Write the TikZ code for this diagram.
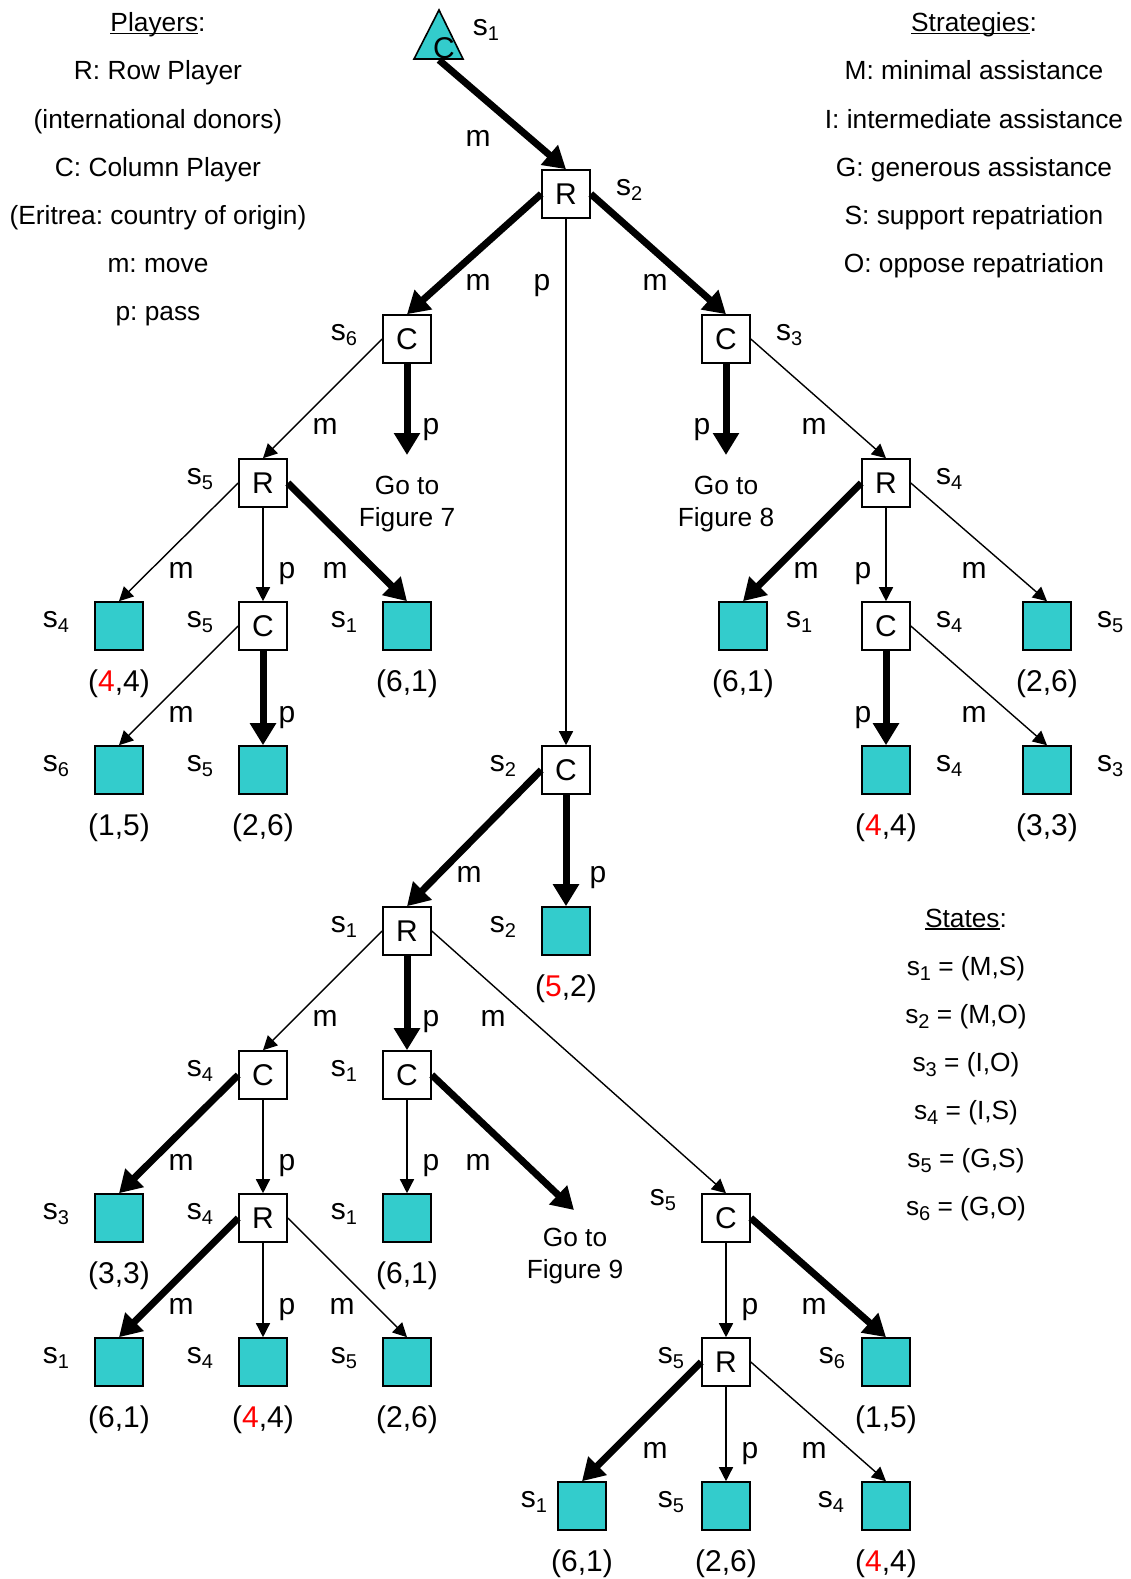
\documentclass[tikz,border=0pt]{standalone}
\usepackage{fontspec}
\setmainfont{Liberation Sans}
\usetikzlibrary{arrows.meta}
\definecolor{leafc}{RGB}{51,204,204}
\newcommand{\stt}[1]{s\raisebox{-5pt}{\fontsize{20}{20}\selectfont #1}}
\newcommand{\rf}[1]{\textcolor{red}{#1}}
\newcommand{\ulined}[1]{\setbox0\hbox{#1}\rlap{\rule[-2.5pt]{\wd0}{1.3pt}}\box0}
\frenchspacing

\begin{document}
\begin{tikzpicture}[x=1pt,y=-1pt]
\tikzset{player/.style = {shape=rectangle,draw,line width=1.6pt,minimum size=48pt,inner sep=0pt,fill=white,font=\fontsize{30}{36}\selectfont}}
\tikzset{leaf/.style = {player,fill=leafc}}
\tikzset{lab/.style = {inner sep=0pt,label distance=25pt,yshift=4pt,font=\fontsize{30}{36}\selectfont}}
\tikzset{pay/.style = {inner sep=0pt,label distance=19pt,font=\fontsize{30}{36}\selectfont}}
\tikzset{edge/.style = {-{Triangle[length=14pt,width=14pt]},line width=1.4pt}}
\tikzset{bedge/.style = {-{Triangle[length=22pt,width=25pt]},line width=7pt}}
\tikzset{mlab/.style = {anchor=base,inner sep=0pt,font=\fontsize{30}{36}\selectfont}}
\tikzset{note/.style = {align=center,inner sep=0pt,font=\fontsize{26.3}{32}\selectfont}}
\useasboundingbox (0,0) rectangle (1131,1579);

% legends
\node[note,anchor=base] (pl0) at (158,32) {\ulined{Players}:};
\foreach \t [count=\i] in {R: Row Player,(international donors),C: Column Player,(Eritrea: country of origin),m: move,p: pass}
  \node[note,anchor=base] (pl\i) at (158,32+48*\i) {\t};
\node[note,anchor=base] (sg0) at (974,32) {\ulined{Strategies}:};
\foreach \t [count=\i] in {M: minimal assistance,I: intermediate assistance,G: generous assistance,S: support repatriation,O: oppose repatriation}
  \node[note,anchor=base] (sg\i) at (974,32+48*\i) {\t};
\node[note,anchor=base] (st0) at (966,927) {\ulined{States}:};
\foreach \t [count=\i] in {{\stt{1} = (M,S)},{\stt{2} = (M,O)},{\stt{3} = (I,O)},{\stt{4} = (I,S)},{\stt{5} = (G,S)},{\stt{6} = (G,O)}}
  \node[note,anchor=base] (st\i) at (966,927+48*\i) {\t};

% root
\filldraw[fill=leafc,line width=1.6pt] (414,59) -- (439,10) -- (463,59) -- cycle;
\node[inner sep=0pt,font=\fontsize{30}{36}\selectfont] (c0) at (444,48) {C};
\node[lab,yshift=0pt] (s0) at (486,34) {\stt{1}};
\coordinate (t0) at (439,60);

% players
\node[player,label={[lab]right:\stt{2}}] (r0) at (566,194) {R};
\node[player,label={[lab]left:\stt{6}}] (c6) at (407,339) {C};
\node[player,label={[lab]right:\stt{3}}] (c3) at (726,339) {C};
\node[player,label={[lab]left:\stt{5}}] (r5) at (263,483) {R};
\node[player,label={[lab]right:\stt{4}}] (r4) at (886,483) {R};
\node[player,label={[lab]left:\stt{5}}] (c5) at (263,626) {C};
\node[player,label={[lab]right:\stt{4}}] (c4) at (886,626) {C};
\node[player,label={[lab]left:\stt{2}}] (c2) at (566,770) {C};
\node[player,label={[lab]left:\stt{1}}] (r1) at (407,931) {R};
\node[player,label={[lab]left:\stt{4}}] (c4b) at (263,1075) {C};
\node[player,label={[lab]left:\stt{1}}] (c1) at (407,1075) {C};
\node[player,label={[lab]left:\stt{4}}] (r4b) at (263,1218) {R};
\node[player,label={[lab,yshift=14pt]left:\stt{5}}] (c5b) at (726,1218) {C};
\node[player,label={[lab,label distance=17pt]left:\stt{5}}] (r5b) at (726,1362) {R};

% go to
\node[note] (g7) at (407,504) {Go to\\Figure 7};
\node[note] (g8) at (726,504) {Go to\\Figure 8};
\node[note] (g9) at (575,1256) {Go to\\Figure 9};
\coordinate (g7tip) at (407,455);
\coordinate (g8tip) at (726,455);
\coordinate (g9tip) at (574,1210);

% leaves
\node[leaf,label={[lab]left:\stt{4}},label={[pay]below:{(\rf{4},4)}}] (la) at (119,626) {};
\node[leaf,label={[lab]left:\stt{1}},label={[pay]below:{(6,1)}}] (lb) at (407,626) {};
\node[leaf,label={[lab,label distance=18pt]right:\stt{1}},label={[pay]below:{(6,1)}}] (lc) at (743,626) {};
\node[leaf,label={[lab]right:\stt{5}},label={[pay]below:{(2,6)}}] (ld) at (1047,626) {};
\node[leaf,label={[lab]left:\stt{6}},label={[pay]below:{(1,5)}}] (le) at (119,770) {};
\node[leaf,label={[lab]left:\stt{5}},label={[pay]below:{(2,6)}}] (lf) at (263,770) {};
\node[leaf,label={[lab]right:\stt{4}},label={[pay]below:{(\rf{4},4)}}] (lg) at (886,770) {};
\node[leaf,label={[lab]right:\stt{3}},label={[pay]below:{(3,3)}}] (lh) at (1047,770) {};
\node[leaf,label={[lab]left:\stt{2}},label={[pay]below:{(\rf{5},2)}}] (li) at (566,931) {};
\node[leaf,label={[lab]left:\stt{3}},label={[pay]below:{(3,3)}}] (lj) at (119,1218) {};
\node[leaf,label={[lab]left:\stt{1}},label={[pay]below:{(6,1)}}] (lk) at (407,1218) {};
\node[leaf,label={[lab]left:\stt{1}},label={[pay]below:{(6,1)}}] (ll) at (119,1362) {};
\node[leaf,label={[lab]left:\stt{4}},label={[pay]below:{(\rf{4},4)}}] (lm) at (263,1362) {};
\node[leaf,label={[lab]left:\stt{5}},label={[pay]below:{(2,6)}}] (ln) at (407,1362) {};
\node[leaf,label={[lab,label distance=16pt]left:\stt{6}},label={[pay]below:{(1,5)}}] (lo) at (886,1362) {};
\node[leaf,label={[lab,label distance=10pt]left:\stt{1}},label={[pay]below:{(6,1)}}] (lp) at (582,1506) {};
\node[leaf,label={[lab,label distance=17pt]left:\stt{5}},label={[pay]below:{(2,6)}}] (lq) at (726,1506) {};
\node[leaf,label={[lab,label distance=17pt]left:\stt{4}},label={[pay]below:{(\rf{4},4)}}] (lr) at (886,1506) {};

% moves
\draw[bedge] (t0) to (r0.north);
\draw[bedge] (r0.west) to (c6.north);
\draw[edge] (r0.south) to (c2.north);
\draw[bedge] (r0.east) to (c3.north);
\draw[edge] (c6.west) to (r5.north);
\draw[bedge] (c6.south) to (g7tip);
\draw[bedge] (c3.south) to (g8tip);
\draw[edge] (c3.east) to (r4.north);
\draw[edge] (r5.west) to (la.north);
\draw[edge] (r5.south) to (c5.north);
\draw[bedge] (r5.east) to (lb.north);
\draw[bedge] (r4.west) to (lc.north);
\draw[edge] (r4.south) to (c4.north);
\draw[edge] (r4.east) to (ld.north);
\draw[edge] (c5.west) to (le.north);
\draw[bedge] (c5.south) to (lf.north);
\draw[bedge] (c4.south) to (lg.north);
\draw[edge] (c4.east) to (lh.north);
\draw[bedge] (c2.west) to (r1.north);
\draw[bedge] (c2.south) to (li.north);
\draw[edge] (r1.west) to (c4b.north);
\draw[bedge] (r1.south) to (c1.north);
\draw[edge] (r1.east) to (c5b.north);
\draw[bedge] (c4b.west) to (lj.north);
\draw[edge] (c4b.south) to (r4b.north);
\draw[edge] (c1.south) to (lk.north);
\draw[bedge] (c1.east) to (g9tip);
\draw[bedge] (r4b.west) to (ll.north);
\draw[edge] (r4b.south) to (lm.north);
\draw[edge] (r4b.east) to (ln.north);
\draw[edge] (c5b.south) to (r5b.north);
\draw[bedge] (c5b.east) to (lo.north);
\draw[bedge] (r5b.west) to (lp.north);
\draw[edge] (r5b.south) to (lq.north);
\draw[edge] (r5b.east) to (lr.north);

% move labels
\foreach \x/\y/\t in {478/146/m, 478/290/m, 542/290/p, 655/290/m,
  325/434/m, 431/434/p, 702/434/p, 814/434/m,
  181/578/m, 287/578/p, 335/578/m, 806/578/m, 863/578/p, 974/578/m,
  181/722/m, 287/722/p, 863/722/p, 974/722/m,
  469/882/m, 598/882/p,
  325/1026/m, 431/1026/p, 493/1026/m,
  181/1170/m, 287/1170/p, 431/1170/p, 478/1170/m,
  181/1314/m, 287/1314/p, 342/1314/m, 750/1314/p, 814/1314/m,
  655/1458/m, 750/1458/p, 814/1458/m}
  \node[mlab] (mv-\x-\y) at (\x,\y) {\t};
\end{tikzpicture}
\end{document}
